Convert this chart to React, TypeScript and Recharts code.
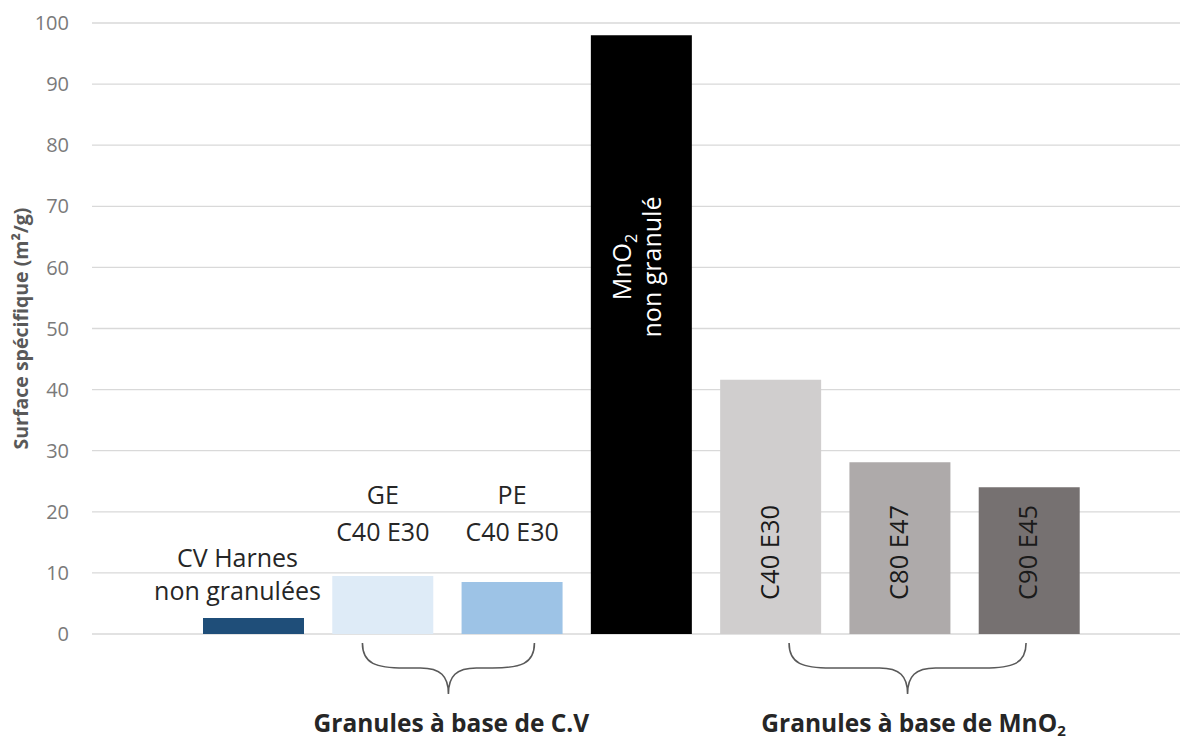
import { BarChart, Bar, XAxis, YAxis, CartesianGrid, Cell, LabelList } from 'recharts'

const FONT = '"Open Sans", "DejaVu Sans", sans-serif'

// surface spécifique BET, m²/g
const categories = ['CV Harnes non granulées', 'GE C40 E30', 'PE C40 E30', 'MnO2 non granulé', 'C40 E30', 'C80 E47', 'C90 E45']
const surfaceValues = [2.6, 9.5, 8.5, 98, 41.6, 28.1, 24]
const barColors = ['#1f4e79', '#deebf7', '#9dc3e6', '#000000', '#d0cece', '#aeaaaa', '#767171']
const yTicks = [0, 10, 20, 30, 40, 50, 60, 70, 80, 90, 100]

const groupLabels = ['Granules à base de C.V', 'Granules à base de MnO']
const groupAnchors = [1, 5] // tick index the brace hangs from

// brace geometry relative to its anchor tick (px)
const BRACE = [
  { dx: 65.5, half: 86, textDx: 3 },
  { dx: 7.5, half: 118.5, textDx: 6 },
]

function bracePath(cx: number, top: number) {
  return (half: number) => {
    const mid = top + 25
    const tip = top + 51
    const l = cx - half
    const r = cx + half
    return [
      `M ${l} ${top} C ${l} ${mid - 4} ${l + 14} ${mid} ${l + 42} ${mid}`,
      `L ${cx - 28} ${mid} C ${cx - 8} ${mid} ${cx} ${mid + 8} ${cx} ${tip}`,
      `M ${r} ${top} C ${r} ${mid - 4} ${r - 14} ${mid} ${r - 42} ${mid}`,
      `L ${cx + 28} ${mid} C ${cx + 8} ${mid} ${cx} ${mid + 8} ${cx} ${tip}`,
    ].join(' ')
  }
}

function renderGroupTick(props: any) {
  const { x, y, index } = props
  const g = groupAnchors.indexOf(index)
  if (g < 0) return <g />
  const b = BRACE[g]
  const cx = x + b.dx
  return (
    <g>
      <path d={bracePath(cx, y + 9)(b.half)} fill="none" stroke="#595959" strokeWidth={1.6} />
      <text x={cx + b.textDx} y={y + 98} textAnchor="middle" fontFamily={FONT} fontSize={24.5} fontWeight={700} fill="#262626">
        {groupLabels[g]}
        {g === 1 && <tspan dy={4} fontSize={15}>2</tspan>}
      </text>
    </g>
  )
}

function renderBarLabel(props: any) {
  const { x, y, width, height, index } = props
  const cx = x + width / 2
  const base = y + height
  const txt = { fontFamily: FONT, fontSize: 25, fill: '#262626' }

  if (index === 0) {
    return (
      <g>
        <text {...txt} x={cx - 16} y={base - 67} textAnchor="middle">CV Harnes</text>
        <text {...txt} x={cx - 16} y={base - 34} textAnchor="middle">non granulées</text>
      </g>
    )
  }
  if (index === 1 || index === 2) {
    return (
      <g>
        <text {...txt} x={cx} y={base - 130} textAnchor="middle">{index === 1 ? 'GE' : 'PE'}</text>
        <text {...txt} x={cx} y={base - 93} textAnchor="middle">C40 E30</text>
      </g>
    )
  }
  if (index === 3) {
    const cy = base - 367
    return (
      <g>
        <text {...txt} fill="#ffffff" x={cx - 10} y={cy} textAnchor="middle" transform={`rotate(-90, ${cx - 10}, ${cy})`}>
          MnO<tspan dy={6} fontSize={16}>2</tspan>
        </text>
        <text {...txt} fill="#ffffff" x={cx + 20} y={cy} textAnchor="middle" transform={`rotate(-90, ${cx + 20}, ${cy})`}>
          non granulé
        </text>
      </g>
    )
  }
  const tx = cx + 8
  const ty = base - 34
  return (
    <text {...txt} fontSize={25.5} fill="#1a1a1a" x={tx} y={ty} textAnchor="start" transform={`rotate(-90, ${tx}, ${ty})`}>
      {categories[index]}
    </text>
  )
}

export default function App() {
  const data = categories.map((name, i) => ({ name, value: surfaceValues[i] }))
  return (
    <div style={{ position: 'absolute', left: 0, top: 0, width: 1180, height: 740, background: '#fff', fontFamily: FONT }}>
      <BarChart width={1180} height={740} data={data} margin={{ top: 23, right: 0, bottom: 0, left: 0 }}>
        <CartesianGrid vertical={false} stroke="#d9d9d9" strokeWidth={1.3} />
        <XAxis
          dataKey="name"
          height={106}
          padding={{ left: 97, right: 86 }}
          axisLine={false}
          tickLine={false}
          tickSize={0}
          tickMargin={0}
          interval={0}
          tick={renderGroupTick}
        />
        <YAxis
          width={92}
          domain={[0, 100]}
          ticks={yTicks}
          axisLine={false}
          tickLine={false}
          tickSize={0}
          tickMargin={23}
          tick={{ fontSize: 20, fill: '#7a7a7a', fontFamily: FONT }}
          label={{
            value: 'Surface spécifique (m²/g)',
            angle: -90,
            position: 'center',
            dx: -25,
            style: { fontSize: 19.5, fontWeight: 700, fill: '#595959', fontFamily: FONT },
          }}
        />
        <Bar dataKey="value" barSize={101} isAnimationActive={false}>
          {data.map((d, i) => (
            <Cell key={d.name} fill={barColors[i]} />
          ))}
          <LabelList dataKey="value" content={renderBarLabel} />
        </Bar>
      </BarChart>
    </div>
  )
}
